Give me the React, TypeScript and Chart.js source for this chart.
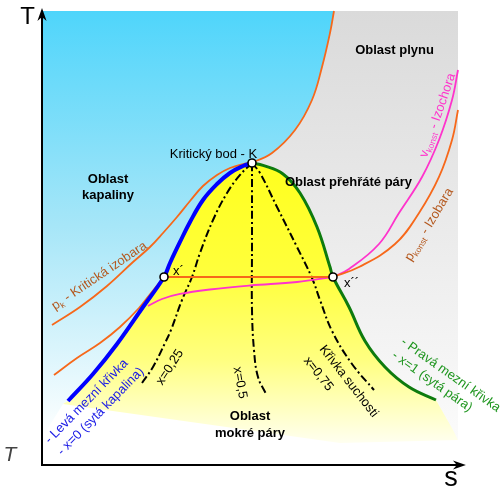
import React, { useEffect, useRef } from 'react';
import { Chart, registerables } from 'chart.js';

Chart.register(...registerables);

// s (entropy, x) and T (temperature, y), schematic units, axes span 0..10
type P = [number, number];

// critical isobar p_k (passes through critical point K at index K_INDEX)
const criticalIsobar: P[] = [
  [0.24, 3.084], [0.913, 3.48], [1.563, 3.943], [2.188, 4.471], [2.596, 4.802],
  [2.909, 5.11], [3.245, 5.463], [3.558, 5.815], [3.87, 6.145], [4.207, 6.388],
  [4.519, 6.542], [4.832, 6.63], [5.048, 6.665], [5.529, 6.872], [6.082, 7.379],
  [6.49, 8.04], [6.731, 8.767], [6.923, 9.515], [7.019, 10.0],
];
const K_INDEX = 12;

// left boundary curve x = 0 (bottom -> K)
const leftBoundary: P[] = [
  [0.625, 1.41], [1.226, 2.004], [1.803, 2.665], [2.428, 3.48], [2.933, 4.141],
  [3.077, 4.449], [3.317, 4.912], [3.558, 5.352], [3.87, 5.837], [4.207, 6.189],
  [4.519, 6.432], [4.832, 6.586], [5.048, 6.652],
];

// right boundary curve x = 1 (K -> bottom)
const rightBoundary: P[] = [
  [5.048, 6.652], [5.313, 6.6], [5.793, 6.41], [6.202, 5.991], [6.611, 5.242],
  [6.923, 4.361], [6.995, 4.141], [7.38, 3.48], [7.764, 2.731], [8.245, 2.159],
  [8.822, 1.718], [9.471, 1.432],
];

// isobar p = const
const isobarLeft: P[] = [
  [0.288, 1.982], [0.841, 2.357], [1.394, 2.687], [1.875, 3.04], [2.332, 3.458],
  [2.62, 3.789], [2.933, 4.141],
];
const isobarWet: P[] = [[2.933, 4.141], [6.995, 4.141]];
const isobarRight: P[] = [
  [6.995, 4.141], [7.62, 4.361], [8.486, 4.868], [9.063, 5.551], [9.543, 6.344],
  [9.856, 7.159], [10.0, 7.819],
];

// isochore v = const
const isochoreLeft: P[] = [
  [2.548, 3.502], [2.885, 3.656], [3.317, 3.767], [4.038, 3.866], [5.0, 3.954],
  [6.13, 4.031], [6.995, 4.141],
];
const isochoreRight: P[] = [
  [6.995, 4.141], [7.38, 4.317], [8.101, 4.868], [8.582, 5.551], [9.135, 6.344],
  [9.543, 7.159], [9.856, 8.04], [10.0, 8.7],
];

// dryness fraction lines
const quality025: P[] = [
  [5.048, 6.652], [4.76, 6.388], [4.447, 5.991], [4.111, 5.396], [3.798, 4.67],
  [3.606, 4.141], [3.365, 3.634], [3.101, 2.974], [2.957, 2.687], [2.668, 2.159],
  [2.404, 1.806],
];
const quality05: P[] = [
  [5.048, 6.652], [5.048, 4.8], [5.048, 3.414], [5.096, 2.533], [5.192, 1.938], [5.385, 1.564],
];
const quality075: P[] = [
  [5.048, 6.652], [5.24, 6.432], [5.649, 5.683], [6.13, 4.802], [6.49, 4.119],
  [6.683, 3.634], [6.971, 2.952], [7.452, 2.225], [7.981, 1.652],
];

// K, x', x''
const specialPoints: P[] = [[5.048, 6.652], [2.933, 4.141], [6.995, 4.141]];

// lower edges of the coloured regions
const liquidFloor: P[] = [[0.505, 1.344], [0.0, 0.6]];
const wetFloor: P[] = [[9.88, 0.771], [10.0, 0.551], [7.163, 0.485], [0.505, 1.344]];

const FONT = '"Liberation Sans", Arial, Helvetica, sans-serif';
const ORANGE = '#f7681a';
const BROWN = '#b4581e';
const PINK = '#ff33cc';
const BLUE = '#0000ff';
const BLUE_TEXT = '#1b1be6';
const GREEN = '#0e7b0e';
const GREEN_TEXT = '#1f961f';

type Run = { t: string; sub?: boolean };
type Label = {
  runs: Run[];
  at: P;
  angle?: number;
  size?: number;
  color?: string;
  weight?: string;
  style?: string;
  align?: 'left' | 'center';
  base?: 'middle' | 'alphabetic';
};

const labels: Label[] = [
  { runs: [{ t: 'T' }], at: [-0.349, 9.714], size: 24, base: 'alphabetic' },
  { runs: [{ t: 'T' }], at: [-0.769, 0.088], size: 21, style: 'italic', color: '#444', base: 'alphabetic' },
  { runs: [{ t: 's' }], at: [9.832, -0.452], size: 27, base: 'alphabetic' },
  { runs: [{ t: 'Oblast plynu' }], at: [8.474, 9.046], weight: 'bold', base: 'alphabetic' },
  { runs: [{ t: 'Oblast' }], at: [1.587, 6.211], weight: 'bold', base: 'alphabetic' },
  { runs: [{ t: 'kapaliny' }], at: [1.587, 5.859], weight: 'bold', base: 'alphabetic' },
  { runs: [{ t: 'Kritický bod - K' }], at: [4.123, 6.773], base: 'alphabetic' },
  { runs: [{ t: 'Oblast přehřáté páry' }], at: [7.368, 6.145], weight: 'bold', base: 'alphabetic' },
  { runs: [{ t: 'Oblast' }], at: [5.0, 0.991], weight: 'bold', base: 'alphabetic' },
  { runs: [{ t: 'mokré páry' }], at: [5.0, 0.617], weight: 'bold', base: 'alphabetic' },
  { runs: [{ t: 'x´' }], at: [3.149, 4.185], align: 'left', base: 'alphabetic' },
  { runs: [{ t: 'x´´' }], at: [7.26, 3.921], align: 'left', base: 'alphabetic' },
  { runs: [{ t: 'p' }, { t: 'k', sub: true }, { t: ' - Kritická izobara' }], at: [1.363, 4.185], angle: -34, color: BROWN },
  { runs: [{ t: 'v' }, { t: 'konst', sub: true }, { t: ' - Izochora' }], at: [9.488, 7.709], angle: -71, color: PINK },
  { runs: [{ t: 'p' }, { t: 'konst', sub: true }, { t: ' - Izobara' }], at: [9.286, 5.308], angle: -59, color: BROWN },
  { runs: [{ t: '- Levá mezní křivka' }], at: [1.053, 1.414], angle: -45.6, color: BLUE_TEXT },
  { runs: [{ t: '- x=0 (sytá kapalina)' }], at: [1.394, 1.196], angle: -45.6, color: BLUE_TEXT },
  { runs: [{ t: '- Pravá mezní křivka' }], at: [9.837, 2.004], angle: 35.3, color: GREEN_TEXT },
  { runs: [{ t: '- x=1 (sytá pára)' }], at: [9.394, 1.857], angle: 35.3, color: GREEN_TEXT },
  { runs: [{ t: 'Křivka suchosti' }], at: [7.392, 1.857], angle: 52 },
  { runs: [{ t: 'x=0,75' }], at: [6.663, 2.02], angle: 52 },
  { runs: [{ t: 'x=0,25' }], at: [3.053, 2.165], angle: -57 },
  { runs: [{ t: 'x=0,5' }], at: [4.784, 1.817], angle: 80 },
];

const px = (chart: any, p: P) => ({
  x: chart.scales.x.getPixelForValue(p[0]),
  y: chart.scales.y.getPixelForValue(p[1]),
});

function trace(ctx: CanvasRenderingContext2D, chart: any, ds: number, from: number, to: number, start: boolean) {
  const meta = chart.getDatasetMeta(ds);
  meta.dataset.updateControlPoints(chart.chartArea, 'x');
  const pts: any[] = meta.data;
  const step = to >= from ? 1 : -1;
  const p0 = pts[from];
  if (start) ctx.moveTo(p0.x, p0.y);
  else ctx.lineTo(p0.x, p0.y);
  for (let i = from; i !== to; i += step) {
    const a = pts[i];
    const b = pts[i + step];
    if (step > 0) ctx.bezierCurveTo(a.cp2x ?? a.x, a.cp2y ?? a.y, b.cp1x ?? b.x, b.cp1y ?? b.y, b.x, b.y);
    else ctx.bezierCurveTo(a.cp1x ?? a.x, a.cp1y ?? a.y, b.cp2x ?? b.x, b.cp2y ?? b.y, b.x, b.y);
  }
}

const DS = { crit: 5, left: 9, right: 10 };

function drawRuns(ctx: CanvasRenderingContext2D, x: number, y: number, l: Label) {
  const size = l.size ?? 13;
  const sub = size * 0.65;
  const weight = l.weight ?? 'normal';
  const style = l.style ?? 'normal';
  const f = (s: number) => `${style} ${weight} ${s}px ${FONT}`;
  ctx.save();
  ctx.translate(x, y);
  ctx.rotate(((l.angle ?? 0) * Math.PI) / 180);
  ctx.fillStyle = l.color ?? '#000';
  ctx.textAlign = 'left';
  ctx.textBaseline = 'alphabetic';
  const widths = l.runs.map((r) => {
    ctx.font = f(r.sub ? sub : size);
    return ctx.measureText(r.t).width;
  });
  const total = widths.reduce((a, b) => a + b, 0);
  let cx = (l.align ?? 'center') === 'center' ? -total / 2 : 0;
  const by = (l.base ?? 'middle') === 'middle' ? size * 0.36 : 0;
  l.runs.forEach((r, i) => {
    ctx.font = f(r.sub ? sub : size);
    ctx.fillText(r.t, cx, by + (r.sub ? size * 0.22 : 0));
    cx += widths[i];
  });
  ctx.restore();
}

function arrow(ctx: CanvasRenderingContext2D, from: { x: number; y: number }, tip: { x: number; y: number }) {
  const dx = tip.x - from.x;
  const dy = tip.y - from.y;
  const len = Math.hypot(dx, dy);
  const ux = dx / len;
  const uy = dy / len;
  const nx = -uy;
  const ny = ux;
  ctx.save();
  ctx.strokeStyle = '#000';
  ctx.fillStyle = '#000';
  ctx.lineWidth = 2;
  ctx.beginPath();
  ctx.moveTo(from.x, from.y);
  ctx.lineTo(tip.x - ux * 8, tip.y - uy * 8);
  ctx.stroke();
  const L = 13;
  const W = 4.6;
  const N = 9;
  ctx.beginPath();
  ctx.moveTo(tip.x, tip.y);
  ctx.lineTo(tip.x - ux * L + nx * W, tip.y - uy * L + ny * W);
  ctx.lineTo(tip.x - ux * N, tip.y - uy * N);
  ctx.lineTo(tip.x - ux * L - nx * W, tip.y - uy * L - ny * W);
  ctx.closePath();
  ctx.fill();
  ctx.restore();
}

const regionPlugin = {
  id: 'regions',
  beforeDatasetsDraw(chart: any) {
    const ctx: CanvasRenderingContext2D = chart.ctx;
    const yTop = chart.scales.y.getPixelForValue(10);
    const critN = criticalIsobar.length - 1;
    const leftN = leftBoundary.length - 1;
    const rightN = rightBoundary.length - 1;
    ctx.save();

    // liquid region (blue)
    let g = ctx.createLinearGradient(0, yTop, 0, chart.scales.y.getPixelForValue(0.6));
    g.addColorStop(0, '#4fd5fb');
    g.addColorStop(0.5, '#a6e6f8');
    g.addColorStop(1, '#ffffff');
    ctx.beginPath();
    const tl = px(chart, [0, 10]);
    ctx.moveTo(tl.x, tl.y);
    trace(ctx, chart, DS.crit, critN, K_INDEX, false);
    trace(ctx, chart, DS.left, leftN, 0, false);
    liquidFloor.forEach((p) => {
      const q = px(chart, p);
      ctx.lineTo(q.x, q.y);
    });
    ctx.closePath();
    ctx.fillStyle = g;
    ctx.fill();

    // gas / superheated region (grey)
    g = ctx.createLinearGradient(0, yTop, 0, chart.scales.y.getPixelForValue(0.55));
    g.addColorStop(0, '#dadada');
    g.addColorStop(1, '#fbfbfb');
    ctx.beginPath();
    trace(ctx, chart, DS.crit, K_INDEX, critN, true);
    [[10, 10], [10, 0.551]].forEach((p) => {
      const q = px(chart, p as P);
      ctx.lineTo(q.x, q.y);
    });
    trace(ctx, chart, DS.right, rightN, 0, false);
    ctx.closePath();
    ctx.fillStyle = g;
    ctx.fill();

    // wet steam region (yellow)
    const yK = chart.scales.y.getPixelForValue(6.652);
    g = ctx.createLinearGradient(0, yK, 0, chart.scales.y.getPixelForValue(0.45));
    g.addColorStop(0, '#ffff1e');
    g.addColorStop(0.4, '#ffff3c');
    g.addColorStop(0.7, '#ffff80');
    g.addColorStop(1, '#fffff2');
    ctx.beginPath();
    trace(ctx, chart, DS.left, 0, leftN, true);
    trace(ctx, chart, DS.right, 0, rightN, false);
    wetFloor.forEach((p) => {
      const q = px(chart, p);
      ctx.lineTo(q.x, q.y);
    });
    ctx.closePath();
    ctx.fillStyle = g;
    ctx.fill();
    ctx.restore();
  },
  afterDatasetsDraw(chart: any) {
    const ctx: CanvasRenderingContext2D = chart.ctx;
    const origin = px(chart, [0, 0]);
    arrow(ctx, origin, px(chart, [0, 10.066]));
    arrow(ctx, { x: origin.x - 1, y: origin.y }, px(chart, [10.19, 0]));
    labels.forEach((l) => {
      const q = px(chart, l.at);
      drawRuns(ctx, q.x, q.y, l);
    });
  },
};

const toXY = (arr: P[]) => arr.map(([x, y]) => ({ x, y }));

// order: lower value is drawn on top
function lineDs(data: P[], color: string, width: number, order: number, extra: any = {}) {
  return {
    data: toXY(data),
    borderColor: color,
    borderWidth: width,
    pointRadius: 0,
    tension: 0.4,
    fill: false,
    clip: false,
    borderCapStyle: 'butt',
    order,
    ...extra,
  };
}

const DASH = [8, 3, 2, 3];

export default function App() {
  const ref = useRef<HTMLCanvasElement | null>(null);
  useEffect(() => {
    if (!ref.current) return;
    const chart = new Chart(ref.current, {
      type: 'line',
      data: {
        datasets: [
          lineDs(isochoreLeft, PINK, 1.8, 5),
          lineDs(isochoreRight, PINK, 1.8, 5),
          lineDs(isobarLeft, ORANGE, 1.8, 3),
          lineDs(isobarWet, ORANGE, 1.8, 4, { tension: 0 }),
          lineDs(isobarRight, ORANGE, 1.8, 4),
          lineDs(criticalIsobar, ORANGE, 1.8, 6),
          lineDs(quality025, '#000', 2, 7, { borderDash: DASH }),
          lineDs(quality05, '#000', 2, 7, { borderDash: DASH }),
          lineDs(quality075, '#000', 2, 7, { borderDash: DASH }),
          lineDs(leftBoundary, BLUE, 4, 2),
          lineDs(rightBoundary, GREEN, 3, 1),
          {
            data: toXY(specialPoints),
            showLine: false,
            pointRadius: 4,
            pointBackgroundColor: '#ffffff',
            pointBorderColor: '#000000',
            pointBorderWidth: 1.6,
            clip: false,
            order: 0,
          },
        ] as any,
      },
      options: {
        animation: false,
        responsive: false,
        events: [],
        layout: { padding: { left: 42, right: 46, top: 11, bottom: 23 } },
        scales: {
          x: { type: 'linear', min: 0, max: 10, display: false },
          y: { type: 'linear', min: 0, max: 10, display: false },
        },
        plugins: { legend: { display: false }, tooltip: { enabled: false } },
      } as any,
      plugins: [regionPlugin],
    });
    return () => chart.destroy();
  }, []);
  return (
    <div style={{ position: 'fixed', left: 0, top: 0, width: 504, height: 488, background: '#fff' }}>
      <canvas ref={ref} width={504} height={488} style={{ display: 'block', width: 504, height: 488 }} />
    </div>
  );
}
